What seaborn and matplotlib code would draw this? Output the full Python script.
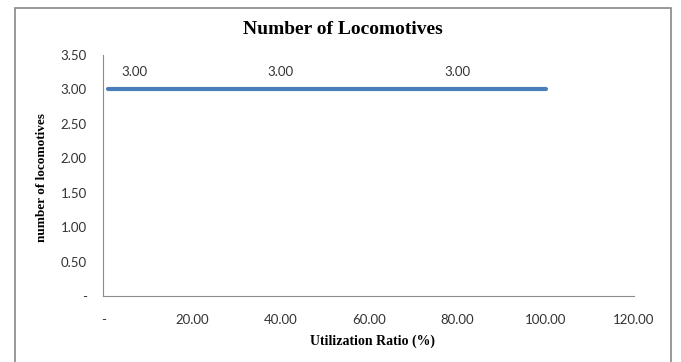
import matplotlib
matplotlib.use("Agg")
import matplotlib.pyplot as plt
import seaborn as sns
import pandas as pd
from matplotlib.patches import Rectangle

# Fleet size required across the utilization range
util_ratio = [1, 7, 40, 80, 100]
locomotives = [3.0, 3.0, 3.0, 3.0, 3.0]
labelled_points = [1, 2, 3]

x_ticks = [0, 20, 40, 60, 80, 100, 120]
y_ticks = [0, 0.5, 1.0, 1.5, 2.0, 2.5, 3.0, 3.5]


def acct(v):
    return "-" if v == 0 else f"{v:.2f}"


sns.set_theme(style="white")
plt.rcParams["font.family"] = ["Lato", "DejaVu Sans"]

df = pd.DataFrame({"Utilization Ratio": util_ratio, "Locomotives": locomotives})

W, H = 681, 362
fig = plt.figure(figsize=(W / 100, H / 100), dpi=100)
ax = fig.add_axes([103.5 / W, 1 - 296 / H, (634 - 103.5) / W, (296 - 55) / H])

sns.lineplot(data=df, x="Utilization Ratio", y="Locomotives", ax=ax,
             color="#4a7ebb", linewidth=3.0, solid_capstyle="round")

for i in labelled_points:
    ax.annotate(acct(locomotives[i]), (util_ratio[i], locomotives[i]),
                xytext=(0, 8), textcoords="offset points",
                ha="center", va="bottom", fontsize=9.5, color="#333333")

ax.set_xlim(0, 120)
ax.set_ylim(0, 3.5)
ax.set_xticks(x_ticks)
ax.set_xticklabels([acct(v) for v in x_ticks])
ax.set_yticks(y_ticks)
ax.set_yticklabels([acct(v) for v in y_ticks])
ax.set_xlabel("")
ax.set_ylabel("")

for s in ["top", "right"]:
    ax.spines[s].set_visible(False)
for s in ["left", "bottom"]:
    ax.spines[s].set_color("#8c8c8c")
    ax.spines[s].set_linewidth(0.8)

ax.tick_params(axis="both", which="major", direction="out", length=4,
               width=0.8, color="#8c8c8c", labelsize=9.5, labelcolor="#333333")
ax.tick_params(axis="x", pad=9)
ax.tick_params(axis="y", pad=8)

serif = ["Liberation Serif", "DejaVu Serif"]
fig.text(343 / W, 1 - 29 / H, "Number of Locomotives", ha="center", va="center",
         fontsize=14, fontweight="bold", family=serif, color="#000000")
fig.text(372 / W, 1 - 341 / H, "Utilization Ratio (%)", ha="center", va="center",
         fontsize=10, fontweight="bold", family=serif, color="#000000")
fig.text(42 / W, 1 - 177 / H, "number of locomotives", ha="center", va="center",
         rotation=90, fontsize=9.5, fontweight="bold", family=serif, color="#000000")

# chart area border
fig.patches.append(Rectangle((14.5 / W, -0.1), (671 - 14.5) / W, 1.1 - 8 / H,
                             transform=fig.transFigure, fill=False,
                             edgecolor="#888888", linewidth=1.2))

fig.savefig("out.png", dpi=100)
